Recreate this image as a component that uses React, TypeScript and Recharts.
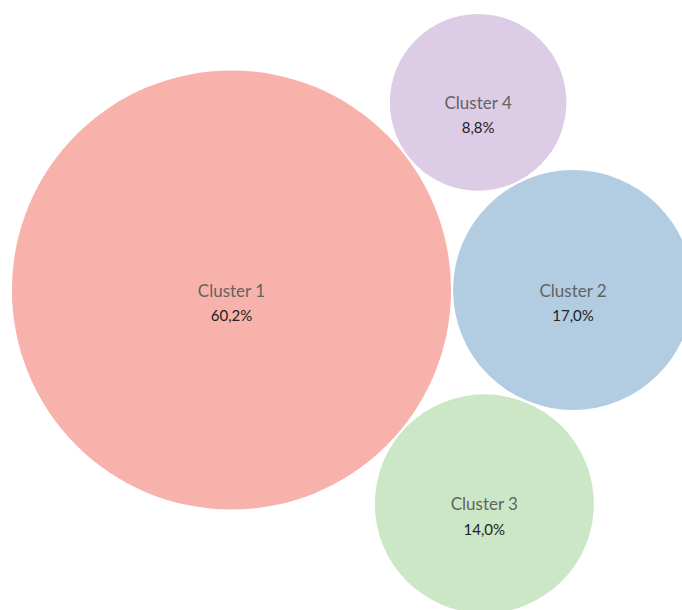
import React from "react";
import { ScatterChart, Scatter, XAxis, YAxis } from "recharts";

// ---- data ----
const clusterNames = ["Cluster 1", "Cluster 2", "Cluster 3", "Cluster 4"];
const clusterShares = [60.2, 17.0, 14.0, 8.8];
const clusterColors = ["#F8B2AC", "#B2CCE2", "#CBE7C5", "#DDCCE5"];

// ---- layout parameters ----
const W = 682;
const H = 610;
const R0 = 7; // base radius (padding) in px
const K = 27.4; // px per sqrt(percent)
const GAP = 2;
const ORIGIN = { x: 231.5, y: 290 };

const radius = (v: number) => R0 + K * Math.sqrt(v);

// simple front-chain packing: biggest at origin, second to its right,
// third tangent below both, fourth tangent above both
function pack() {
  const r = clusterShares.map(radius);
  const d12 = r[0] + r[1] + GAP;
  const place = (ri: number, below: boolean) => {
    const d1 = r[0] + ri + GAP;
    const d2 = r[1] + ri + GAP;
    const x = (d1 * d1 - d2 * d2 + d12 * d12) / (2 * d12);
    const y = Math.sqrt(Math.max(d1 * d1 - x * x, 0));
    return { x, y: below ? y : -y };
  };
  const pos = [
    { x: 0, y: 0 },
    { x: d12, y: 0 },
    place(r[2], true),
    place(r[3], false),
  ];
  return clusterNames.map((name, i) => ({
    name,
    value: clusterShares[i],
    color: clusterColors[i],
    r: r[i],
    x: ORIGIN.x + pos[i].x,
    y: ORIGIN.y + pos[i].y,
  }));
}

const data = pack();

const fmt = (v: number) => v.toFixed(1).replace(".", ",") + "%";

const Bubble = (props: any) => {
  const { cx, cy, payload } = props;
  if (cx == null || cy == null) return null;
  return (
    <g>
      <circle cx={cx} cy={cy} r={payload.r} fill={payload.color} />
      <text
        x={cx}
        y={cy}
        textAnchor="middle"
        dominantBaseline="central"
        fontFamily="Lato, 'Open Sans', sans-serif"
        fontSize={17}
        fill="#636363"
      >
        {payload.name}
      </text>
      <text
        x={cx}
        y={cy + 25}
        textAnchor="middle"
        dominantBaseline="central"
        fontFamily="Lato, 'Open Sans', sans-serif"
        fontSize={15}
        fill="#222"
      >
        {fmt(payload.value)}
      </text>
    </g>
  );
};

export default function App() {
  return (
    <div style={{ position: "fixed", left: 0, top: 0, width: W, height: H, background: "#fff" }}>
      <ScatterChart width={W} height={H} margin={{ top: 0, right: 0, bottom: 0, left: 0 }}>
        <XAxis type="number" dataKey="x" domain={[0, W]} hide />
        <YAxis type="number" dataKey="y" domain={[0, H]} reversed hide />
        <Scatter data={data} shape={<Bubble />} isAnimationActive={false} />
      </ScatterChart>
    </div>
  );
}
